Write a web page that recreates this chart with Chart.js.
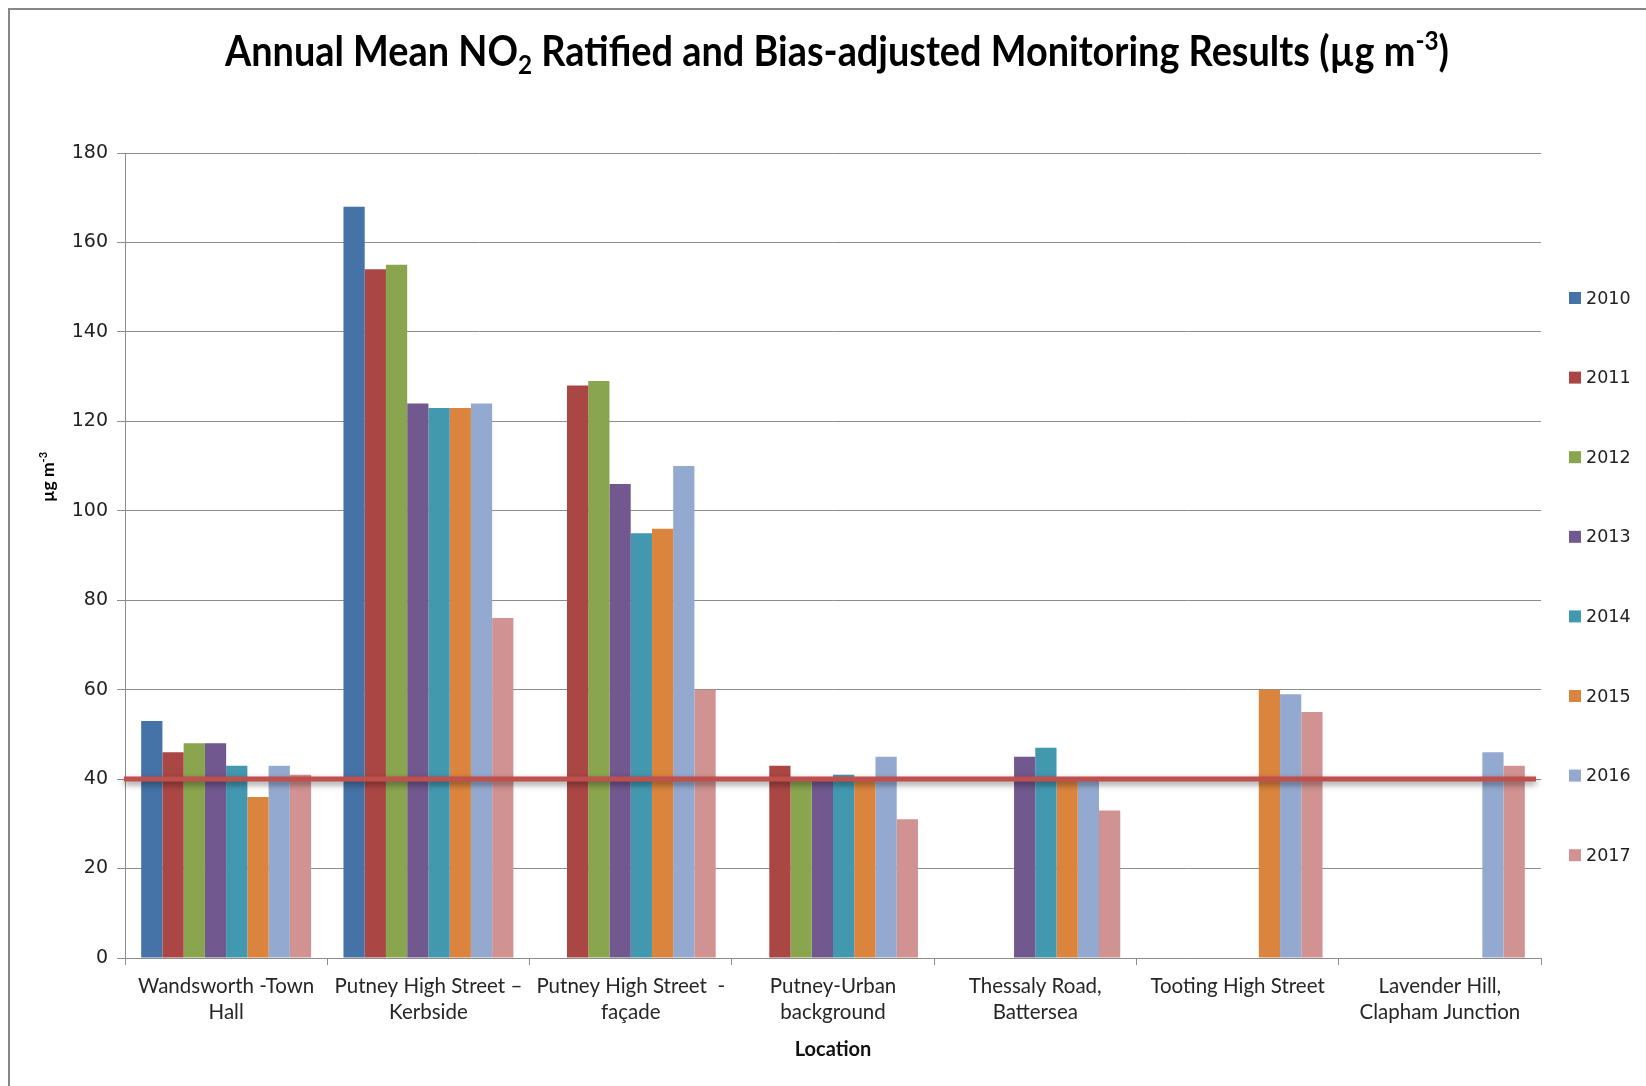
<!DOCTYPE html>
<html>
<head>
<meta charset="utf-8">
<title>Annual Mean NO2 Monitoring Results</title>
<script src="https://cdn.jsdelivr.net/npm/chart.js@4.4.1/dist/chart.umd.min.js"></script>
<style>
  html, body { margin: 0; padding: 0; background: #ffffff; }
  canvas { display: block; }
</style>
</head>
<body>
<canvas id="no2Chart" width="1646" height="1086"></canvas>
<script>
// Monitoring sites (two-line labels where the site name wraps)
const locations = [
  ['Wandsworth -Town', 'Hall'],
  ['Putney High Street \u2013', 'Kerbside'],
  ['Putney High Street  -', 'fa\u00e7ade'],
  ['Putney-Urban', 'background'],
  ['Thessaly Road,', 'Battersea'],
  'Tooting High Street',
  ['Lavender Hill,', 'Clapham Junction']
];

const years = ['2010', '2011', '2012', '2013', '2014', '2015', '2016', '2017'];

// Annual mean NO2 (µg m-3) per site; null where the site was not monitored
const no2_2010 = [53, 168, null, null, null, null, null];
const no2_2011 = [46, 154, 128, 43, null, null, null];
const no2_2012 = [48, 155, 129, 40, null, null, null];
const no2_2013 = [48, 124, 106, 40, 45, null, null];
const no2_2014 = [43, 123, 95, 41, 47, null, null];
const no2_2015 = [36, 123, 96, 40, 40, 60, null];
const no2_2016 = [43, 124, 110, 45, 40, 59, 46];
const no2_2017 = [41, 76, 60, 31, 33, 55, 43];

const yTicks = [0, 20, 40, 60, 80, 100, 120, 140, 160, 180];

// Annual mean objective
const objectiveLimit = 40;

const seriesValues = [no2_2010, no2_2011, no2_2012, no2_2013, no2_2014, no2_2015, no2_2016, no2_2017];
const seriesColors = ['#4572A7', '#AA4643', '#89A54E', '#71588F', '#4198AF', '#DB843D', '#93A9CF', '#D19392'];

const GRID = '#8c8c8c';
const TEXT = '#222222';

// Draws a run of text segments (normal / subscript / superscript),
// condensed horizontally to a target width when one is given.
function drawRichText(ctx, parts, x, y, size, weight, family, align, targetWidth) {
  const fontFor = (p) => `${weight} ${p.mode === 'normal' ? size : Math.round(size * 0.64)}px ${family}`;
  let total = 0;
  const widths = parts.map(p => { ctx.font = fontFor(p); const w = ctx.measureText(p.t).width; total += w; return w; });
  const sx = targetWidth ? targetWidth / total : 1;
  const drawn = total * sx;
  const start = align === 'center' ? x - drawn / 2 : x;
  ctx.save();
  ctx.translate(start, y);
  ctx.scale(sx, 1);
  ctx.textBaseline = 'alphabetic';
  ctx.textAlign = 'left';
  let cx = 0;
  parts.forEach((p, i) => {
    ctx.font = fontFor(p);
    let dy = 0;
    if (p.mode === 'sub') dy = size * 0.2;
    if (p.mode === 'sup') dy = -size * 0.38;
    ctx.fillText(p.t, cx, dy);
    cx += widths[i];
  });
  ctx.restore();
}

// Frame, chart title and vertical axis title
const decorations = {
  id: 'decorations',
  beforeDraw(chart) {
    const ctx = chart.ctx;
    ctx.save();
    ctx.fillStyle = '#ffffff';
    ctx.fillRect(0, 0, chart.width, chart.height);
    ctx.strokeStyle = '#878787';
    ctx.lineWidth = 2;
    ctx.beginPath();
    ctx.moveTo(9, chart.height + 5);
    ctx.lineTo(9, 9);
    ctx.lineTo(chart.width + 5, 9);
    ctx.stroke();
    ctx.restore();
  },
  afterDraw(chart) {
    const ctx = chart.ctx;
    ctx.save();
    ctx.fillStyle = '#000000';
    drawRichText(ctx, [
      { t: 'Annual Mean NO', mode: 'normal' },
      { t: '2', mode: 'sub' },
      { t: ' Ratified and Bias-adjusted Monitoring Results (\u00b5g m', mode: 'normal' },
      { t: '-3', mode: 'sup' },
      { t: ')', mode: 'normal' }
    ], 837, 66, 42, 'bold', 'Lato', 'center', 1224);

    ctx.translate(48, 477);
    ctx.rotate(-Math.PI / 2);
    drawRichText(ctx, [
      { t: '\u00b5g m', mode: 'normal' },
      { t: '-3', mode: 'sup' }
    ], 0, 6, 17.5, 'bold', 'Lato', 'center', 0);
    ctx.restore();
  }
};

// Horizontal objective line across the plot, with a soft drop shadow
const objectiveLine = {
  id: 'objectiveLine',
  afterDatasetsDraw(chart) {
    const { ctx, chartArea, scales } = chart;
    const y = scales.y.getPixelForValue(objectiveLimit);
    ctx.save();
    ctx.shadowColor = 'rgba(0,0,0,0.45)';
    ctx.shadowBlur = 6;
    ctx.shadowOffsetY = 3;
    ctx.strokeStyle = '#C0504D';
    ctx.lineWidth = 5;
    ctx.beginPath();
    ctx.moveTo(chartArea.left - 1, y);
    ctx.lineTo(chartArea.right - 5, y);
    ctx.stroke();
    ctx.restore();
  }
};

// Series key down the right-hand side
const sideLegend = {
  id: 'sideLegend',
  afterDraw(chart) {
    const ctx = chart.ctx;
    ctx.save();
    ctx.font = '17.5px "DejaVu Sans"';
    ctx.textBaseline = 'middle';
    ctx.textAlign = 'left';
    chart.data.datasets.forEach((ds, i) => {
      const cy = 298 + i * 79.6;
      ctx.fillStyle = ds.backgroundColor;
      ctx.fillRect(1569, cy - 6, 12, 12);
      ctx.fillStyle = TEXT;
      ctx.fillText(ds.label, 1586, cy + 1);
    });
    ctx.restore();
  }
};

new Chart(document.getElementById('no2Chart'), {
  type: 'bar',
  data: {
    labels: locations,
    datasets: years.map((yr, i) => ({
      label: yr,
      data: seriesValues[i],
      backgroundColor: seriesColors[i],
      borderWidth: 0,
      categoryPercentage: 0.84,
      barPercentage: 1.0
    }))
  },
  options: {
    responsive: false,
    animation: false,
    devicePixelRatio: 1,
    layout: { padding: { top: 153, right: 105, bottom: 0, left: 0 } },
    plugins: {
      legend: { display: false },
      title: { display: false },
      tooltip: { enabled: false }
    },
    scales: {
      x: {
        grid: { offset: true, drawOnChartArea: false, color: GRID, tickLength: 7 },
        border: { color: GRID, width: 1 },
        ticks: {
          font: { family: 'Lato', size: 20.5, lineHeight: 1.27 },
          color: '#262626',
          padding: 8,
          maxRotation: 0,
          autoSkip: false
        },
        title: {
          display: true,
          text: 'Location',
          font: { family: 'Lato', size: 20, weight: 'bold' },
          color: '#111111',
          padding: { top: 4, bottom: 24 }
        },
        afterFit(scale) { scale.height = 128; }
      },
      y: {
        min: 0,
        max: 180,
        afterBuildTicks(scale) { scale.ticks = yTicks.map(v => ({ value: v })); },
        grid: { color: GRID, tickLength: 8 },
        border: { color: GRID, width: 1 },
        ticks: {
          font: { family: 'DejaVu Sans', size: 19 },
          color: TEXT,
          padding: 9
        },
        afterFit(scale) { scale.width = 125; }
      }
    }
  },
  plugins: [decorations, objectiveLine, sideLegend]
});
</script>
</body>
</html>
